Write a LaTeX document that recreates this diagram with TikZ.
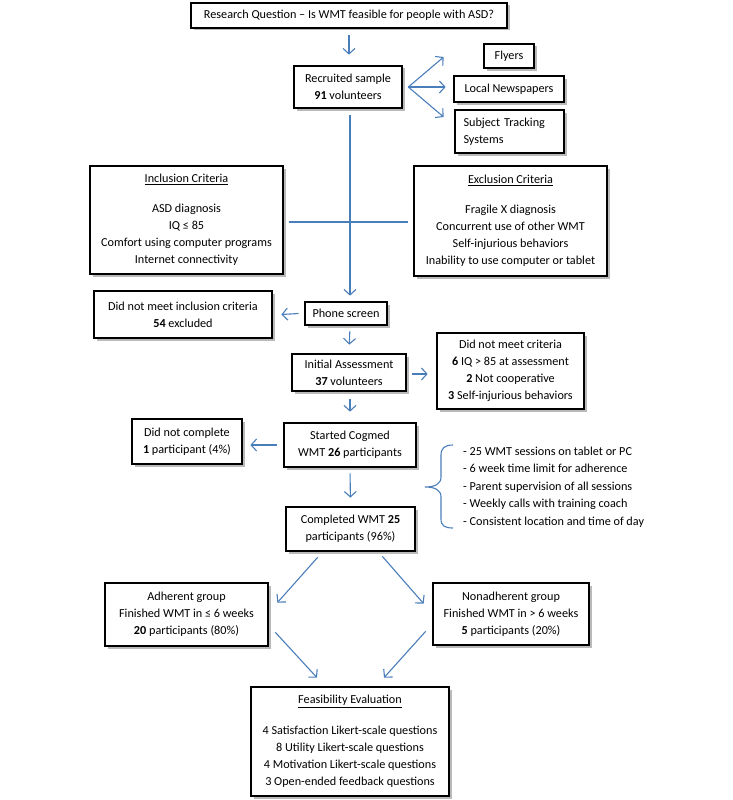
\documentclass[tikz,border=0pt]{standalone}
\usepackage{fontspec}
\setmainfont{Carlito}
\usetikzlibrary{arrows.meta,shadows}
\definecolor{linkblue}{RGB}{74,126,187}
\tikzset{
    box/.style={draw, line width=2.7pt, fill=white, align=center, inner sep=2pt,
        font=\fontsize{12.2}{17}\selectfont,
        drop shadow={shadow xshift=2.5pt, shadow yshift=-2.5pt, fill=black!45, opacity=.6}},
    link/.style={draw=linkblue, line width=1.1pt, -{Straight Barb[length=5.5pt,width=12pt]}},
    plainlink/.style={draw=linkblue, line width=1.1pt}
}

\begin{document}
\begin{tikzpicture}[x=1pt,y=-1pt]
                \useasboundingbox (0,0) rectangle (733,800);
                % boxes, centres in pixels of the page
                \node[box, minimum width=316pt, minimum height=25pt] (rq) at (349,15.5)
                    {Research Question -- Is WMT feasible for people with ASD?};
                \node[box, minimum width=108pt, minimum height=42pt] (rec) at (348,87)
                    {Recruited sample\\\textbf{91} volunteers};
                \node[box, minimum width=50pt, minimum height=24pt] (fly) at (509,56) {Flyers};
                \node[box, minimum width=110pt, minimum height=26pt] (news) at (509,89) {Local Newspapers};
                \node[box, minimum width=109pt, minimum height=43pt, align=left, text width=92pt] (track) at (509.5,131.5)
                    {Subject Tracking\\Systems};
                \node[box, minimum width=193pt, minimum height=108pt] (inc) at (186.5,220)
                    {\underline{Inclusion Criteria}\\[13pt]ASD diagnosis\\IQ ≤ 85\\Comfort using computer programs\\Internet connectivity};
                \node[box, minimum width=193pt, minimum height=110pt] (exc) at (510.5,221)
                    {\underline{Exclusion Criteria}\\[13pt]Fragile X diagnosis\\Concurrent use of other WMT\\Self-injurious behaviors\\Inability to use computer or tablet};
                \node[box, minimum width=178pt, minimum height=47pt] (nomeet) at (183,314.5)
                    {Did not meet inclusion criteria\\\textbf{54} excluded};
                \node[box, minimum width=82pt, minimum height=23pt] (phone) at (346,313.5) {Phone screen};
                \node[box, minimum width=114pt, minimum height=37pt] (init) at (349,372.5)
                    {Initial Assessment\\\textbf{37} volunteers};
                \node[box, minimum width=147pt, minimum height=76pt] (crit) at (510.5,371)
                    {Did not meet criteria\\\textbf{6} IQ > 85 at assessment\\\textbf{2} Not cooperative\\\textbf{3} Self-injurious behaviors};
                \node[box, minimum width=132pt, minimum height=44pt] (start) at (350,445)
                    {Started Cogmed\\WMT \textbf{26} participants};
                \node[box, minimum width=110pt, minimum height=45pt] (notcomp) at (187,441.5)
                    {Did not complete\\\textbf{1} participant (4\%)};
                \node[box, minimum width=129pt, minimum height=44pt] (comp) at (350.5,529)
                    {Completed WMT \textbf{25}\\participants (96\%)};
                \node[box, minimum width=163pt, minimum height=63pt] (adh) at (186.5,614.5)
                    {Adherent group\\Finished WMT in ≤ 6 weeks\\\textbf{20} participants (80\%)};
                \node[box, minimum width=156pt, minimum height=62pt] (nonadh) at (511,614)
                    {Nonadherent group\\Finished WMT in > 6 weeks\\\textbf{5} participants (20\%)};
                \node[box, minimum width=198pt, minimum height=109pt] (feas) at (350,741.5)
                    {\underline{Feasibility Evaluation}\\[14pt]4 Satisfaction Likert-scale questions\\8 Utility Likert-scale questions\\4 Motivation Likert-scale questions\\3 Open-ended feedback questions};
                % training rules beside the brace
                \node[anchor=west, align=left, inner sep=0pt, font=\fontsize{12.2}{17.5}\selectfont] (rules) at (463,487)
                    {- 25 WMT sessions on tablet or PC\\- 6 week time limit for adherence\\- Parent supervision of all sessions\\- Weekly calls with training coach\\- Consistent location and time of day};
                \draw[plainlink] (453,445) .. controls (445,445) and (441,448) .. (441,455) -- (441,477)
                    .. controls (441,484) and (435,487) .. (425,487)
                    .. controls (435,487) and (441,490) .. (441,497) -- (441,519)
                    .. controls (441,526) and (445,528) .. (453,528);
                % connectors
                \draw[link, shorten <=6pt, shorten >=10pt] (rq.south -| rec.south) ++(1,0) -- (rec.north -| 349,0);
                \draw[link] ([xshift=5pt]rec.east) -- ([shift={(-39,1)}]fly.west);
                \draw[link] ([xshift=5pt]rec.east) -- ([shift={(-7,-2)}]news.west);
                \draw[link] ([xshift=5pt]rec.east) -- ([shift={(-10,-14.5)}]track.west);
                \draw[link, shorten <=6pt, shorten >=5pt] ([xshift=2pt]rec.south) -- ([xshift=4pt]phone.north);
                \draw[plainlink] ([xshift=5pt]inc.east) ++(0,2) -- ([shift={(-5,1)}]exc.west);
                %\draw[plainlink] (inc.east) -- (exc.west);
                \draw[link] ([xshift=-5pt]phone.west) -- ([xshift=8pt]nomeet.east);
                \draw[link, shorten <=5pt, shorten >=8pt] ([xshift=4pt]phone.south) -- (init.north);
                \draw[link] ([shift={(5,1.5)}]init.east) -- ([shift={(-8,3)}]crit.west);
                \draw[link, shorten <=7pt, shorten >=10pt] ([xshift=1pt]init.south) -- (start.north);
                \draw[link] ([xshift=-6pt]start.west) -- ([xshift=7pt]notcomp.east |- start.west);
                \draw[link, shorten <=5pt, shorten >=8pt] (start.south) -- (comp.north);
                \draw[link] ([shift={(33,5)}]comp.south west) -- ([shift={(8,21)}]adh.north east);
                \draw[link] ([shift={(-34,4)}]comp.south east) -- ([shift={(-8,22)}]nonadh.north west);
                \draw[link] ([shift={(6,-15)}]adh.south east) -- ([shift={(-33,-8)}]feas.north);
                \draw[link] ([shift={(-6,-15)}]nonadh.south west) -- ([shift={(34,-8)}]feas.north);
\end{tikzpicture}
\end{document}
